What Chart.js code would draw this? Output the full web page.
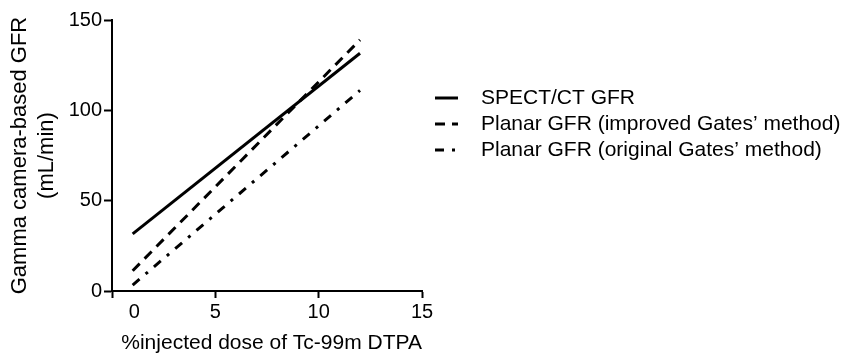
<!DOCTYPE html>
<html>
<head>
<meta charset="utf-8">
<script src="https://cdn.jsdelivr.net/npm/chart.js@4.4.1/dist/chart.umd.min.js"></script>
<style>
  html, body { margin: 0; padding: 0; background: #fff; }
  canvas { display: block; }
</style>
</head>
<body>
<canvas id="gfrChart" width="845" height="354"></canvas>
<script>
// values (x in axis units, y in mL/min)
const doseRange = [1, 12];
const spectGfr = [31.6, 131.6];
const planarImproved = [11.2, 139];
const planarOriginal = [3.3, 111];

const seriesNames = [
  'SPECT/CT GFR',
  'Planar GFR (improved Gates\u2019 method)',
  'Planar GFR (original Gates\u2019 method)'
];
const xTicks = [0, 5, 10, 15];
const yTicks = [0, 50, 100, 150];

function toPoints(ys) {
  return doseRange.map((x, i) => ({ x: x, y: ys[i] }));
}

// legend drawn next to the plot, using each dataset's own line style
const sideLegend = {
  id: 'sideLegend',
  afterDraw(chart, args, opts) {
    const ctx = chart.ctx;
    ctx.save();
    ctx.font = opts.font;
    ctx.textBaseline = 'middle';
    ctx.fillStyle = '#000';
    chart.data.datasets.forEach((ds, i) => {
      const y = opts.top + i * opts.gap;
      ctx.beginPath();
      ctx.setLineDash(ds.borderDash || []);
      ctx.lineWidth = ds.borderWidth;
      ctx.strokeStyle = ds.borderColor;
      ctx.lineCap = 'butt';
      ctx.moveTo(opts.left, y);
      ctx.lineTo(opts.left + opts.lineLen, y);
      ctx.stroke();
      ctx.setLineDash([]);
      ctx.fillText(ds.label, opts.textX, y);
    });
    ctx.restore();
  }
};

Chart.defaults.font.family = '"Liberation Sans", Arial, Helvetica, sans-serif';
Chart.defaults.color = '#000';

const ctx = document.getElementById('gfrChart').getContext('2d');
new Chart(ctx, {
  type: 'scatter',
  data: {
    datasets: [
      {
        label: seriesNames[0],
        data: toPoints(spectGfr),
        borderColor: '#000',
        borderWidth: 3,
        borderDash: [],
        showLine: true,
        pointRadius: 0
      },
      {
        label: seriesNames[1],
        data: toPoints(planarImproved),
        borderColor: '#000',
        borderWidth: 3,
        borderDash: [10, 7],
        showLine: true,
        pointRadius: 0
      },
      {
        label: seriesNames[2],
        data: toPoints(planarOriginal),
        borderColor: '#000',
        borderWidth: 3,
        borderDash: [9, 8, 3, 8],
        showLine: true,
        pointRadius: 0
      }
    ]
  },
  options: {
    responsive: false,
    animation: false,
    layout: { padding: { top: 20, right: 423, bottom: 0, left: 0 } },
    scales: {
      x: {
        type: 'linear',
        min: 0,
        max: 15,
        afterBuildTicks: (scale) => { scale.ticks = xTicks.map(v => ({ value: v })); },
        afterFit: (scale) => { scale.height = 63; },
        ticks: {
          font: { size: 20 },
          padding: 2,
          maxRotation: 0,
          autoSkip: false,
          // the zero label sits under the start of the lines in the figure
          callback: (v) => v === 0 ? ' '.repeat(8) + '0' : String(v)
        },
        grid: { drawOnChartArea: false, tickLength: 7, tickWidth: 2, tickColor: '#000' },
        border: { color: '#000', width: 2 },
        title: {
          display: true,
          text: '%injected dose of Tc-99m DTPA',
          align: 'end',
          font: { size: 21, lineHeight: 1.0 },
          padding: { top: 0, bottom: 0 }
        }
      },
      y: {
        min: 0,
        max: 150,
        afterBuildTicks: (scale) => { scale.ticks = yTicks.map(v => ({ value: v })); },
        afterFit: (scale) => { scale.width = 112; },
        ticks: { font: { size: 20 }, padding: 2 },
        grid: { drawOnChartArea: false, tickLength: 8, tickWidth: 2, tickColor: '#000' },
        border: { color: '#000', width: 2 },
        title: {
          display: true,
          text: ['Gamma camera-based GFR', '(mL/min)'],
          font: { size: 22, lineHeight: 1.23 },
          padding: { top: 6, bottom: 0 }
        }
      }
    },
    plugins: {
      legend: { display: false },
      tooltip: { enabled: false },
      sideLegend: {
        left: 435,
        lineLen: 23,
        textX: 481,
        top: 98,
        gap: 26,
        font: '21px "Liberation Sans", Arial, Helvetica, sans-serif'
      }
    }
  },
  plugins: [sideLegend]
});
</script>
</body>
</html>
